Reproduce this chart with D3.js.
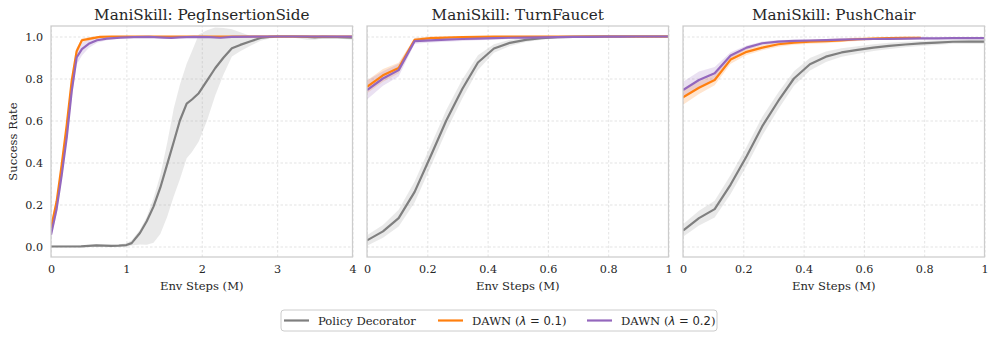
<!DOCTYPE html>
<html>
<head>
<meta charset="utf-8">
<script src="https://cdn.jsdelivr.net/npm/d3@7"></script>
<style>
  body { margin: 0; background: #fff; }
  svg text { font-family: "DejaVu Serif", serif; fill: #262626; }
</style>
</head>
<body>
<svg width="997" height="340"></svg>
<script>
// ---- data ----
const titles = ["ManiSkill: PegInsertionSide", "ManiSkill: TurnFaucet", "ManiSkill: PushChair"];
const xMaxes = [4, 1, 1];
const xTicksPeg = [0, 1, 2, 3, 4];
const xTicksUnit = [0, 0.2, 0.4, 0.6, 0.8, 1];
const yTicks = [0, 0.2, 0.4, 0.6, 0.8, 1.0];
const seriesNames = ["Policy Decorator", "DAWN (\u03bb = 0.1)", "DAWN (\u03bb = 0.2)"];
const seriesColors = ["#7f7f7f", "#ff7f0e", "#9467bd"];

// PegInsertionSide
const pegPdX = [0, 0.2, 0.4, 0.6, 0.8, 0.9, 1.0, 1.07, 1.18, 1.27, 1.36, 1.45, 1.54, 1.63, 1.71, 1.80, 1.87, 1.96, 2.07, 2.18, 2.29, 2.40, 2.51, 2.64, 2.78, 2.9, 3.0, 3.2, 3.4, 3.5, 3.6, 3.8, 4.0];
const pegPd = [0, 0, 0.001, 0.005, 0.003, 0.004, 0.007, 0.016, 0.064, 0.12, 0.19, 0.28, 0.39, 0.50, 0.60, 0.68, 0.70, 0.73, 0.79, 0.85, 0.90, 0.944, 0.96, 0.976, 0.993, 0.998, 1.0, 1.0, 0.998, 0.996, 0.998, 0.997, 0.994];
const pegPdLo = [0, 0, 0, 0, 0, 0, 0, 0.005, 0.01, 0.008, 0.018, 0.06, 0.14, 0.24, 0.32, 0.42, 0.45, 0.50, 0.60, 0.72, 0.82, 0.905, 0.93, 0.955, 0.98, 0.99, 0.995, 0.995, 0.985, 0.985, 0.99, 0.99, 0.985];
const pegPdHi = [0.005, 0.005, 0.006, 0.01, 0.008, 0.01, 0.015, 0.03, 0.08, 0.14, 0.23, 0.34, 0.49, 0.66, 0.77, 0.87, 0.93, 1.01, 1.03, 1.043, 1.04, 1.035, 1.02, 1.003, 1.003, 1.002, 1.002, 1.002, 1.005, 1.005, 1.004, 1.003, 1.003];
const pegD1X = [0, 0.075, 0.142, 0.209, 0.275, 0.34, 0.41, 0.52, 0.65, 0.8, 1.0, 1.5, 2.0, 2.5, 3.0, 3.5, 4.0];
const pegD1 = [0.088, 0.215, 0.39, 0.58, 0.79, 0.93, 0.982, 0.99, 0.998, 1.0, 1.0, 1.0, 1.0, 1.0, 1.0, 1.0, 1.0];
const pegD1Sd = [0.02, 0.02, 0.02, 0.02, 0.02, 0.015, 0.01, 0.008, 0.004, 0.002, 0.002, 0.002, 0.002, 0.002, 0.002, 0.002, 0.002];
const pegD2X = [0, 0.075, 0.142, 0.209, 0.275, 0.34, 0.41, 0.5, 0.61, 0.74, 0.92, 1.1, 1.3, 1.5, 1.6, 1.7, 1.9, 2.1, 2.25, 2.4, 2.7, 3.0, 3.5, 4.0];
const pegD2 = [0.056, 0.18, 0.34, 0.52, 0.74, 0.90, 0.94, 0.965, 0.982, 0.99, 0.995, 0.997, 0.998, 0.995, 0.993, 0.996, 0.998, 0.997, 0.994, 0.998, 0.999, 1.0, 1.0, 0.999];
const pegD2Sd = [0.02, 0.025, 0.025, 0.025, 0.03, 0.035, 0.03, 0.02, 0.012, 0.008, 0.005, 0.004, 0.004, 0.004, 0.004, 0.004, 0.003, 0.003, 0.003, 0.003, 0.003, 0.003, 0.003, 0.003];

// TurnFaucet and PushChair share the same eval steps
const unitX = [0, 0.053, 0.105, 0.158, 0.211, 0.263, 0.316, 0.368, 0.421, 0.474, 0.526, 0.579, 0.632, 0.684, 0.737, 0.789, 0.842, 0.895, 0.947, 1.0];

const faucetPd = [0.029, 0.072, 0.135, 0.26, 0.43, 0.60, 0.75, 0.876, 0.943, 0.97, 0.984, 0.992, 0.997, 0.998, 0.999, 1.0, 1.0, 1.0, 1.0, 1.0];
const faucetPdSd = [0.025, 0.03, 0.04, 0.05, 0.05, 0.05, 0.045, 0.035, 0.02, 0.015, 0.01, 0.008, 0.005, 0.004, 0.003, 0.002, 0.002, 0.002, 0.002, 0.002];
const faucetD1 = [0.76, 0.815, 0.85, 0.984, 0.992, 0.995, 0.997, 0.998, 0.999, 1.0, 1.0, 1.0, 1.0, 1.0, 1.0, 1.0, 1.0, 1.0, 1.0, 1.0];
const faucetD1Sd = [0.03, 0.03, 0.025, 0.01, 0.008, 0.005, 0.004, 0.003, 0.002, 0.002, 0.002, 0.002, 0.002, 0.002, 0.002, 0.002, 0.002, 0.002, 0.002, 0.002];
const faucetD2 = [0.745, 0.80, 0.84, 0.978, 0.982, 0.985, 0.988, 0.99, 0.992, 0.994, 0.995, 0.996, 0.997, 0.998, 0.998, 0.999, 0.999, 1.0, 1.0, 1.0];
const faucetD2Sd = [0.045, 0.035, 0.03, 0.012, 0.01, 0.01, 0.01, 0.008, 0.007, 0.006, 0.005, 0.004, 0.004, 0.003, 0.003, 0.002, 0.002, 0.002, 0.002, 0.002];

const chairPd = [0.076, 0.135, 0.178, 0.295, 0.43, 0.573, 0.693, 0.80, 0.868, 0.904, 0.924, 0.936, 0.947, 0.955, 0.962, 0.967, 0.971, 0.975, 0.976, 0.976];
const chairPdSd = [0.03, 0.035, 0.04, 0.045, 0.045, 0.045, 0.04, 0.035, 0.03, 0.025, 0.02, 0.018, 0.016, 0.015, 0.013, 0.012, 0.011, 0.01, 0.01, 0.01];
const chairD1 = [0.71, 0.756, 0.793, 0.89, 0.927, 0.947, 0.963, 0.971, 0.975, 0.978, 0.982, 0.987, 0.99, 0.992, 0.993, 0.994];
const chairD1Sd = [0.035, 0.03, 0.025, 0.02, 0.015, 0.013, 0.012, 0.01, 0.01, 0.01, 0.008, 0.008, 0.007, 0.006, 0.006, 0.006];
const chairD2 = [0.745, 0.793, 0.825, 0.91, 0.947, 0.968, 0.976, 0.979, 0.981, 0.983, 0.985, 0.987, 0.988, 0.989, 0.990, 0.991, 0.991, 0.992, 0.992, 0.992];
const chairD2Sd = [0.04, 0.04, 0.03, 0.015, 0.01, 0.008, 0.007, 0.006, 0.005, 0.005, 0.005, 0.005, 0.005, 0.005, 0.005, 0.005, 0.005, 0.005, 0.005, 0.005];

// build point lists (band from lo/hi if given, otherwise mean +- sd)
function pts(xs, ys, sd, lo, hi) {
    return ys.map((v, i) => ({
        x: xs[i], y: v,
        lo: lo ? lo[i] : v - sd[i],
        hi: hi ? hi[i] : v + sd[i]
    }));
}

const panelSeries = [
    [pts(pegPdX, pegPd, null, pegPdLo, pegPdHi), pts(pegD1X, pegD1, pegD1Sd), pts(pegD2X, pegD2, pegD2Sd)],
    [pts(unitX, faucetPd, faucetPdSd), pts(unitX, faucetD1, faucetD1Sd), pts(unitX, faucetD2, faucetD2Sd)],
    [pts(unitX, chairPd, chairPdSd), pts(unitX, chairD1, chairD1Sd), pts(unitX, chairD2, chairD2Sd)]
];

// ---- layout ----
const svg = d3.select("svg");
const panelLefts = [51, 367, 683];
const panelW = 301.5;
const plotTop = 26, plotBottom = 257;

const y = d3.scaleLinear().domain([-0.05, 1.05]).range([plotBottom, plotTop]);

panelSeries.forEach((series, p) => {
    const x = d3.scaleLinear().domain([0, xMaxes[p]]).range([panelLefts[p], panelLefts[p] + panelW]);
    const xTicks = p === 0 ? xTicksPeg : xTicksUnit;
    const g = svg.append("g");

    const clipId = "clip" + p;
    svg.append("clipPath").attr("id", clipId)
        .append("rect")
        .attr("x", panelLefts[p]).attr("y", plotTop)
        .attr("width", panelW).attr("height", plotBottom - plotTop);

    // grid
    g.append("g")
        .attr("transform", `translate(0,${plotBottom})`)
        .call(d3.axisBottom(x).tickValues(xTicks).tickSize(-(plotBottom - plotTop)).tickFormat(""))
        .call(s => s.select(".domain").remove())
        .selectAll("line").attr("stroke", "#dcdcdc").attr("stroke-width", 0.8).attr("stroke-dasharray", "2.5,2");
    g.append("g")
        .attr("transform", `translate(${panelLefts[p]},0)`)
        .call(d3.axisLeft(y).tickValues(yTicks).tickSize(-panelW).tickFormat(""))
        .call(s => s.select(".domain").remove())
        .selectAll("line").attr("stroke", "#dcdcdc").attr("stroke-width", 0.8).attr("stroke-dasharray", "2.5,2");

    // bands then lines
    const plot = g.append("g").attr("clip-path", `url(#${clipId})`);
    const area = d3.area().x(d => x(d.x)).y0(d => y(d.lo)).y1(d => y(d.hi));
    const line = d3.line().x(d => x(d.x)).y(d => y(d.y));

    series.forEach((data, s) => {
        plot.append("path")
            .attr("d", area(data))
            .attr("fill", s === 0 ? "#a8a8a8" : seriesColors[s])
            .attr("fill-opacity", s === 0 ? 0.25 : 0.2);
    });
    series.forEach((data, s) => {
        plot.append("path")
            .attr("d", line(data))
            .attr("fill", "none")
            .attr("stroke", seriesColors[s])
            .attr("stroke-width", 2.2)
            .attr("stroke-linejoin", "round");
    });

    // frame
    g.append("rect")
        .attr("x", panelLefts[p]).attr("y", plotTop)
        .attr("width", panelW).attr("height", plotBottom - plotTop)
        .attr("fill", "none").attr("stroke", "#cccccc").attr("stroke-width", 1.25);

    // x tick labels
    g.append("g")
        .attr("transform", `translate(0,${plotBottom})`)
        .call(d3.axisBottom(x).tickValues(xTicks).tickSize(0).tickPadding(8).tickFormat(d3.format("~g")))
        .call(s => s.select(".domain").remove())
        .selectAll("text")
        .attr("font-family", "DejaVu Serif").attr("font-size", 11.2).attr("fill", "#262626");

    // y tick labels on first panel only
    if (p === 0) {
        g.append("g")
            .attr("transform", `translate(${panelLefts[p]},0)`)
            .call(d3.axisLeft(y).tickValues(yTicks).tickSize(0).tickPadding(8).tickFormat(d3.format(".1f")))
            .call(s => s.select(".domain").remove())
            .selectAll("text")
            .attr("font-family", "DejaVu Serif").attr("font-size", 11.2).attr("fill", "#262626");

        g.append("text")
            .attr("transform", `translate(13,${(plotTop + plotBottom) / 2}) rotate(-90)`)
            .attr("text-anchor", "middle")
            .attr("dominant-baseline", "central")
            .attr("font-size", 11.6)
            .text("Success Rate");
    }

    // titles and x label
    g.append("text")
        .attr("x", panelLefts[p] + panelW / 2).attr("y", 20)
        .attr("text-anchor", "middle")
        .attr("font-size", 15.2)
        .text(titles[p]);

    g.append("text")
        .attr("x", panelLefts[p] + panelW / 2).attr("y", 285.5)
        .attr("text-anchor", "middle")
        .attr("dominant-baseline", "central")
        .attr("font-size", 11.6)
        .text("Env Steps (M)");
});

// ---- legend ----
const legend = svg.append("g");
legend.append("rect")
    .attr("x", 281).attr("y", 310).attr("width", 436).attr("height", 21)
    .attr("rx", 3)
    .attr("fill", "#fff").attr("stroke", "#cccccc").attr("stroke-width", 1);

const legendX = [284, 438, 587];
seriesNames.forEach((name, i) => {
    const lg = legend.append("g").attr("transform", `translate(${legendX[i]},320.5)`);
    lg.append("line").attr("x1", 0).attr("x2", 25).attr("y1", 0).attr("y2", 0)
        .attr("stroke", seriesColors[i]).attr("stroke-width", 2.2);
    const t = lg.append("text").attr("x", 34).attr("dominant-baseline", "central").attr("font-size", 11.6);
    if (i === 0) {
        t.text(name);
    } else {
        t.append("tspan").text("DAWN (");
        t.append("tspan").attr("font-family", "DejaVu Sans").attr("font-style", "italic").text("\u03bb");
        t.append("tspan").attr("font-family", "DejaVu Sans").text(" = " + (i === 1 ? "0.1" : "0.2"));
        t.append("tspan").text(")");
    }
});
</script>
</body>
</html>
